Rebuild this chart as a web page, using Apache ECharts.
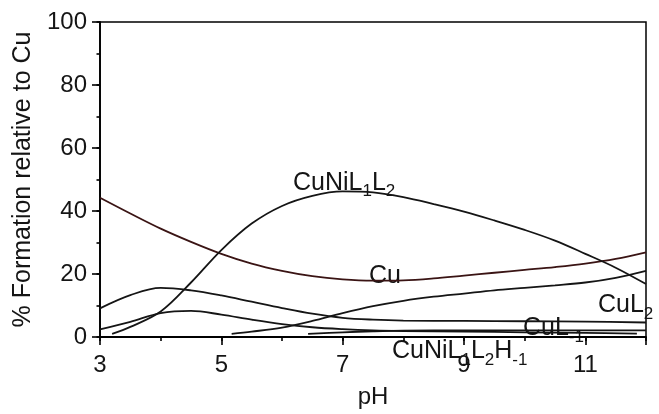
<!DOCTYPE html>
<html>
<head>
<meta charset="utf-8">
<title>Cu species distribution</title>
<script src="https://cdn.jsdelivr.net/npm/echarts@6/dist/echarts.min.js"></script>
</head>
<body style="margin:0;background:#fff;">
<div id="main" style="width:659px;height:414px;"></div>
<script type="text/javascript">
    // values (pH, % formation relative to Cu)
    var phCu = [3, 3.5, 4, 4.5, 5, 5.5, 6, 6.5, 7, 7.5, 8, 8.5, 9, 9.5, 10, 10.5, 11, 11.5, 12];
    var cu = [44.2, 39.2, 34.4, 30.2, 26.4, 23.3, 21.0, 19.3, 18.3, 17.9, 18.0, 18.6, 19.5, 20.4, 21.3, 22.2, 23.3, 24.8, 26.9];

    var phComplex = [3.2, 3.5, 4, 4.5, 5, 5.5, 6, 6.5, 7, 7.5, 8, 8.5, 9, 9.5, 10, 10.5, 11, 11.5, 12];
    var complex = [1.0, 3.2, 8.1, 17.3, 27.6, 36.0, 41.6, 44.8, 46.2, 45.9, 44.4, 42.2, 39.8, 37.0, 34.0, 30.6, 26.4, 22.0, 16.8];

    var phCuL1 = [3, 3.5, 4, 4.5, 5, 5.5, 6, 6.5, 7, 7.5, 8, 9, 10, 11, 12];
    var cuL1 = [9.1, 13.3, 15.6, 14.8, 13.2, 11.2, 9.2, 7.4, 6.1, 5.5, 5.2, 5.1, 5.0, 4.9, 4.6];

    var phB = [3, 3.5, 4, 4.5, 5, 5.5, 6, 6.5, 7, 7.5, 8, 9, 10, 11, 11.85];
    var curveB = [2.4, 4.8, 7.6, 8.3, 7.1, 5.5, 4.1, 3.1, 2.5, 2.1, 1.9, 1.7, 1.5, 1.3, 1.1];

    var phCuL2 = [5.17, 5.5, 6, 6.5, 7, 7.5, 8, 8.5, 9, 9.5, 10, 10.5, 11, 11.5, 12];
    var cuL2 = [1.0, 1.7, 3.0, 5.1, 7.6, 9.8, 11.5, 12.8, 13.8, 14.8, 15.6, 16.4, 17.3, 18.8, 21.0];

    var phH1 = [6.43, 7, 7.5, 8, 9, 10, 11, 12];
    var h1 = [1.0, 1.5, 1.8, 2.0, 2.1, 2.1, 2.1, 2.1];

    function pairs(xs, ys) {
        var out = [];
        for (var i = 0; i < xs.length; ++i) {
            out.push([xs[i], ys[i]]);
        }
        return out;
    }

    var font = "'Liberation Sans', Arial, sans-serif";
    var ink = '#151515';
    var rich = {
        a: { fontSize: 25, lineHeight: 34, fontFamily: font, color: ink },
        s: { fontSize: 17, lineHeight: 17, padding: [17, 0, 0, 0], fontFamily: font, color: ink }
    };

    function curve(name, data, color) {
        return {
            name: name,
            type: 'line',
            data: data,
            smooth: 0.35,
            showSymbol: false,
            xAxisIndex: 0,
            yAxisIndex: 0,
            lineStyle: { color: color, width: 1.8 }
        };
    }

    function label(left, top, text) {
        return {
            type: 'text',
            left: left,
            top: top,
            style: { text: text, rich: rich, fill: ink }
        };
    }

    var myChart = echarts.init(document.getElementById('main'));
    myChart.setOption({
        animation: false,
        grid: {
            left: 100, right: 13, top: 22, bottom: 70,
            show: true, borderColor: '#000', borderWidth: 1.5
        },
        xAxis: [{
            type: 'value', min: 3, max: 12, interval: 1,
            name: 'pH', nameLocation: 'middle', nameGap: 48,
            nameTextStyle: { fontSize: 24, fontFamily: font, color: ink },
            axisLine: { lineStyle: { color: '#000', width: 1.8 } },
            axisTick: { length: 4, lineStyle: { color: '#000', width: 1.6 } },
            axisLabel: {
                fontSize: 24, fontFamily: font, color: ink, margin: 16,
                formatter: function (v) { return (v % 2 === 1 && v < 12) ? String(v) : ''; }
            },
            splitLine: { show: false }
        }, {
            type: 'value', min: 3, max: 12, interval: 2, position: 'bottom',
            axisLine: { show: false },
            axisTick: { length: 8, lineStyle: { color: '#000', width: 1.6 } },
            axisLabel: { show: false },
            splitLine: { show: false }
        }],
        yAxis: [{
            type: 'value', min: 0, max: 100, interval: 10,
            name: '% Formation relative to Cu', nameLocation: 'middle', nameGap: 62,
            nameTextStyle: { fontSize: 25, fontFamily: font, color: ink },
            axisLine: { show: true, lineStyle: { color: '#000', width: 1.8 } },
            axisTick: { show: true, length: 3.5, lineStyle: { color: '#000', width: 1.6 } },
            axisLabel: {
                fontSize: 24, fontFamily: font, color: ink, margin: 13,
                formatter: function (v) { return v % 20 === 0 ? String(v) : ''; }
            },
            splitLine: { show: false }
        }, {
            type: 'value', min: 0, max: 100, interval: 20, position: 'left',
            axisLine: { show: false },
            axisTick: { show: true, length: 8, lineStyle: { color: '#000', width: 1.6 } },
            axisLabel: { show: false },
            splitLine: { show: false }
        }],
        series: [
            curve('Cu', pairs(phCu, cu), '#3a1414'),
            curve('CuNiL1L2', pairs(phComplex, complex), ink),
            curve('CuL-1', pairs(phCuL1, cuL1), ink),
            curve('B', pairs(phB, curveB), ink),
            curve('CuL2', pairs(phCuL2, cuL2), ink),
            curve('CuNiL1L2H-1', pairs(phH1, h1), ink)
        ],
        graphic: [
            label(293, 166, '{a|CuNiL}{s|1}{a|L}{s|2}'),
            label(369, 263.5, '{a|Cu}'),
            label(598, 288.5, '{a|CuL}{s|2}'),
            label(523, 311.5, '{a|CuL}{s|-1}'),
            label(392, 334.5, '{a|CuNiL}{s|1}{a|L}{s|2}{a|H}{s|-1}')
        ]
    });
</script>
</body>
</html>
